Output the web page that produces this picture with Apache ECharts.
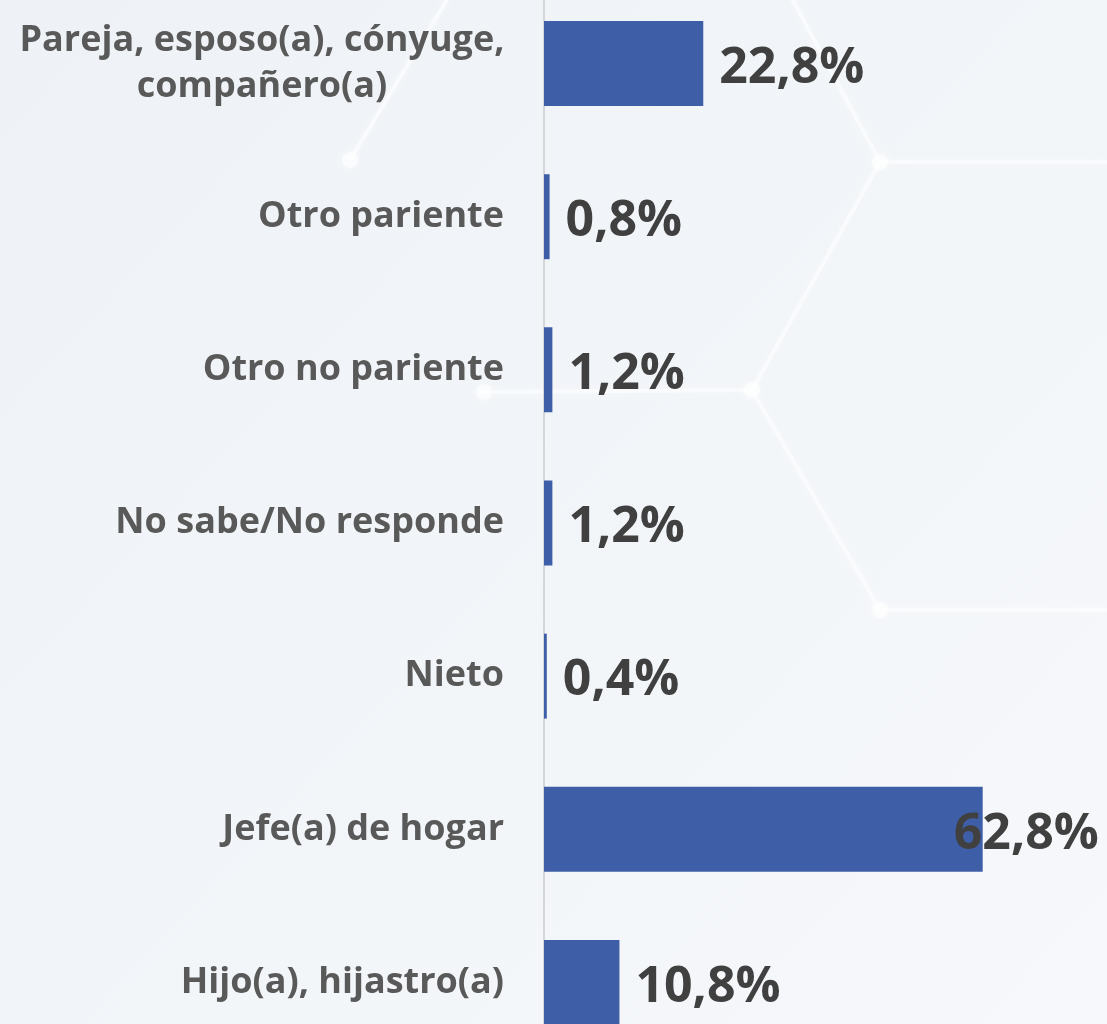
<!DOCTYPE html>
<html>
<head>
<meta charset="utf-8">
<script src="https://cdn.jsdelivr.net/npm/echarts@6/dist/echarts.min.js"></script>
<style>
  html, body { margin: 0; padding: 0; }
  #main { width: 1107px; height: 1024px; }
</style>
</head>
<body>
<div id="main"></div>
<script>
// categorias (de arriba hacia abajo) y porcentajes
var categorias = [
    'Pareja, esposo(a), cónyuge,\ncompañero(a)',
    'Otro pariente',
    'Otro no pariente',
    'No sabe/No responde',
    'Nieto',
    'Jefe(a) de hogar',
    'Hijo(a), hijastro(a)'
];
var valores = [22.8, 0.8, 1.2, 1.2, 0.4, 62.8, 10.8];

var myChart = echarts.init(document.getElementById('main'));

var datos = valores.map(function (v, i) {
    var d = { value: v };
    if (v > 60) {
        // la etiqueta de la barra mas larga queda montada sobre el final
        d.label = { offset: [-45, 5] };
    }
    return d;
});

// lineas de fondo decorativas (red tenue)
var lineaFondo = {
    stroke: 'rgba(255,255,255,0.55)', lineWidth: 4, fill: null,
    shadowBlur: 10, shadowColor: 'rgba(255,255,255,0.9)'
};
var nodo = { fill: 'rgba(255,255,255,0.6)', shadowBlur: 12, shadowColor: '#ffffff' };

var option = {
    backgroundColor: {
        type: 'linear', x: 0, y: 0, x2: 1, y2: 1,
        colorStops: [
            { offset: 0, color: '#eef2f6' },
            { offset: 1, color: '#f6f8fb' }
        ]
    },
    graphic: [
        { type: 'polyline', silent: true, z: -1, shape: { points: [[350, 160], [450, -5]] }, style: lineaFondo },
        { type: 'polyline', silent: true, z: -1, shape: { points: [[880, 162], [1110, 162]] }, style: lineaFondo },
        { type: 'polyline', silent: true, z: -1, shape: { points: [[790, -5], [880, 162], [752, 390], [880, 610], [1110, 610]] }, style: lineaFondo },
        { type: 'polyline', silent: true, z: -1, shape: { points: [[480, 392], [752, 390]] }, style: lineaFondo },
        { type: 'circle', silent: true, z: -1, shape: { cx: 350, cy: 160, r: 8 }, style: nodo },
        { type: 'circle', silent: true, z: -1, shape: { cx: 880, cy: 162, r: 8 }, style: nodo },
        { type: 'circle', silent: true, z: -1, shape: { cx: 752, cy: 390, r: 8 }, style: nodo },
        { type: 'circle', silent: true, z: -1, shape: { cx: 484, cy: 392, r: 8 }, style: nodo },
        { type: 'circle', silent: true, z: -1, shape: { cx: 880, cy: 610, r: 8 }, style: nodo }
    ],
    grid: {
        left: 544,
        top: -13,
        width: 489,
        height: 1072,
        outerBoundsMode: 'none',
        containLabel: false
    },
    xAxis: {
        type: 'value',
        min: 0,
        max: 70,
        show: false
    },
    yAxis: {
        type: 'category',
        inverse: true,
        data: categorias,
        axisLine: { show: true, lineStyle: { color: '#d6d6d6', width: 2 } },
        axisTick: { show: false },
        axisLabel: {
            margin: 40,
            color: '#595959',
            fontFamily: 'Open Sans',
            fontWeight: 'bold',
            fontSize: 36,
            lineHeight: 46,
            formatter: function (val) {
                if (val.indexOf('\n') >= 0) {
                    var partes = val.split('\n');
                    return '{c|' + partes[0] + '}\n{c|' + partes[1] + '}';
                }
                return val;
            },
            rich: {
                c: {
                    width: 484,
                    align: 'center',
                    color: '#595959',
                    fontFamily: 'Open Sans',
                    fontWeight: 'bold',
                    fontSize: 36,
                    lineHeight: 46
                }
            }
        }
    },
    series: [{
        type: 'bar',
        data: datos,
        barCategoryGap: '44.5%',
        itemStyle: { color: '#3e5fa8' },
        label: {
            show: true,
            position: 'right',
            distance: 16,
            offset: [0, 5],
            color: '#404040',
            fontFamily: 'Open Sans',
            fontWeight: 'bold',
            fontSize: 50,
            formatter: function (p) {
                return p.value.toFixed(1).replace('.', ',') + '%';
            }
        }
    }]
};

myChart.setOption(option);
</script>
</body>
</html>
